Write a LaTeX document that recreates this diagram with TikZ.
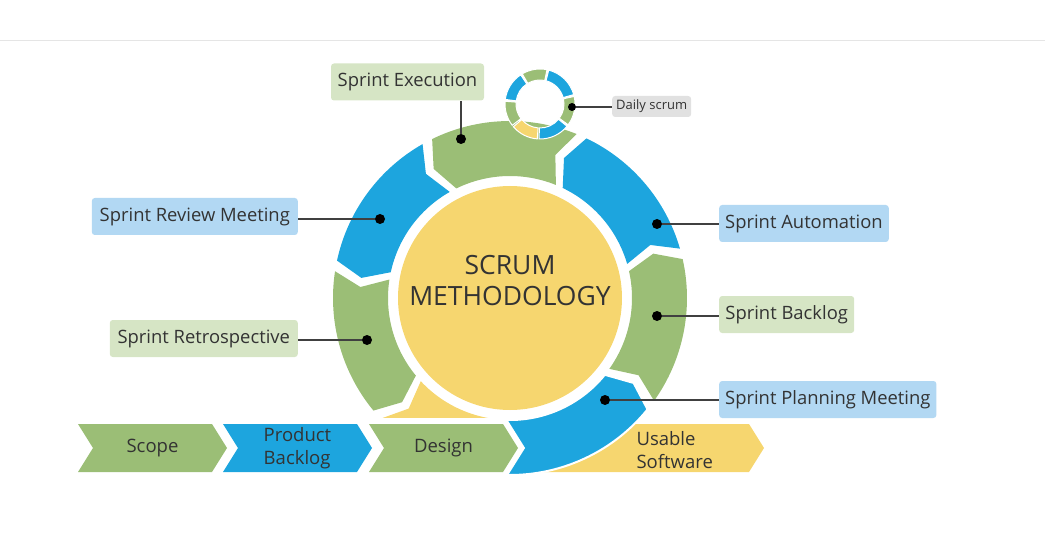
\documentclass[tikz,border=0pt]{standalone}
\usepackage{fontspec}
\setmainfont{Open Sans}
\usepackage{tikz}
\usetikzlibrary{shapes.symbols,positioning}
\definecolor{dfgreen}{RGB}{155,190,118}
\definecolor{dfblue}{RGB}{29,165,222}
\definecolor{dfyellow}{RGB}{246,214,111}
\definecolor{dflightgreen}{RGB}{214,229,197}
\definecolor{dflightblue}{RGB}{178,216,243}
\definecolor{dfgray}{RGB}{225,225,225}
\definecolor{dftext}{RGB}{51,51,51}
\tikzstyle{chevron} = [signal, signal from=west, signal to=east, signal pointer angle=116, minimum width=149pt, minimum height=48pt, inner sep=0pt, text=dftext, align=left, font=\fontsize{18.5}{23}\selectfont]
\tikzstyle{tagbox} = [rectangle, rounded corners=3pt, minimum height=37pt, inner xsep=6pt, text=dftext, font=\fontsize{18.4}{22}\selectfont]
\tikzstyle{blackdot} = [circle, fill=black, inner sep=0pt, minimum size=10pt]
\tikzstyle{link} = [line width=1.5pt, color=black!75]
% one arrow piece of the ring: options, tail angle, front angle
\newcommand{\ringpiece}[3]{%
  \path[#1] (#2:177pt) arc[start angle=#2, end angle=#3, radius=177pt]
    -- ({#3+4.5}:150pt) -- (#3:122pt)
    arc[start angle=#3, end angle=#2, radius=122pt]
    -- ({#2+4.5}:150pt) -- cycle;}

\begin{document}
\begin{tikzpicture}[x=1pt, y=1pt]
\useasboundingbox (0,0) rectangle (1045,550);
\draw[gray!20, line width=1pt] (0,509) -- (1045,509);

% yellow tail and the output
\begin{scope}[shift={(510,252)}]
\ringpiece{fill=dfyellow}{223}{280}
\end{scope}
\node (usable) [chevron, fill=dfyellow, minimum width=294pt] at (617,102) {};
\node (usabletext) [anchor=west, text=dftext, align=left, font=\fontsize{18.5}{23}\selectfont] at (633,100) {Usable\\Software};

% sprint planning comes out of the chevrons
\begin{scope}[shift={(510,252)}]
\ringpiece{fill=dfblue, draw=white, line width=2pt}{-95}{-39}
\end{scope}

% chevrons
\node (scope) [chevron, fill=dfgreen] at (152.5,102) {\raisebox{-2pt}{Scope}};
\node (backlog) [chevron, fill=dfblue] at (297.5,102) {\raisebox{-2pt}{Product}\\\raisebox{-2pt}{Backlog}};
\node (design) [chevron, fill=dfgreen, preaction={draw=white, line width=12pt}] at (443.5,102) {\raisebox{-2pt}{Design}};

% the sprint cycle
\begin{scope}[shift={(510,252)}]
\ringpiece{fill=dfgreen}{-35.5}{12.7}
\ringpiece{fill=dfblue}{16.2}{64.4}
\ringpiece{fill=dfgreen}{67.9}{116.1}
\ringpiece{fill=dfblue}{119.6}{167.8}
\ringpiece{fill=dfgreen}{171.3}{219.5}
\end{scope}
\node (core) [circle, fill=dfyellow, minimum size=224pt, inner sep=0pt] at (510,252) {};
\node (title) [align=center, text=dftext, font=\fontsize{26.5}{31}\selectfont] at (510,269) {SCRUM\\METHODOLOGY};

% daily scrum ring
\begin{scope}[shift={(540,446)}]
\foreach \a/\b/\c in {14/77/dfblue, 77/122/dfgreen, 122/174/dfblue, 174/219/dfgreen, 219/267/dfyellow, 267/322/dfblue, 322/374/dfgreen}
  \filldraw[fill=\c, draw=white, line width=1pt] ({\a+1.5}:35pt) arc[start angle=\a+1.5, end angle=\b-1.5, radius=35pt] -- ({\b-1.5}:24pt) arc[start angle=\b-1.5, end angle=\a+1.5, radius=24pt] -- cycle;
\end{scope}

% labels
\node (exe) [tagbox, fill=dflightgreen, minimum width=153pt] at (407.5,468) {Sprint Execution};
\node (daily) [tagbox, fill=dfgray, minimum width=79pt, minimum height=21pt, inner xsep=3pt, font=\fontsize{13}{15}\selectfont, anchor=west] at (612,443.5) {Daily scrum};
\node (review) [tagbox, fill=dflightblue, minimum width=206pt, anchor=east] at (298,333.5) {Sprint Review Meeting};
\node (retro) [tagbox, fill=dflightgreen, minimum width=188pt, anchor=east] at (298,211.5) {Sprint Retrospective};
\node (auto) [tagbox, fill=dflightblue, minimum width=169pt, anchor=west] at (719,326.5) {Sprint Automation};
\node (sprintlog) [tagbox, fill=dflightgreen, minimum width=135pt, anchor=west] at (719,235.5) {Sprint Backlog};
\node (plan) [tagbox, fill=dflightblue, minimum width=217pt, anchor=west] at (719,150.5) {Sprint Planning Meeting};

% dots and leaders
\node (dexe) [blackdot] at (461,411) {};
\node (ddaily) [blackdot, minimum size=8pt] at (572,443) {};
\node (dreview) [blackdot] at (380,331) {};
\node (dretro) [blackdot] at (367,210) {};
\node (dauto) [blackdot] at (657,326) {};
\node (dsprintlog) [blackdot] at (657,234) {};
\node (dplan) [blackdot] at (605,150) {};

\draw[link] (dexe) -- (dexe |- exe.south);
\draw[link] (ddaily) -- (ddaily -| daily.west);
\draw[link] (dreview) -- (dreview -| review.east);
\draw[link] (dretro) -- (dretro -| retro.east);
\draw[link] (dauto) -- (dauto -| auto.west);
\draw[link] (dsprintlog) -- (dsprintlog -| sprintlog.west);
\draw[link] (dplan) -- (dplan -| plan.west);
\end{tikzpicture}
\end{document}
